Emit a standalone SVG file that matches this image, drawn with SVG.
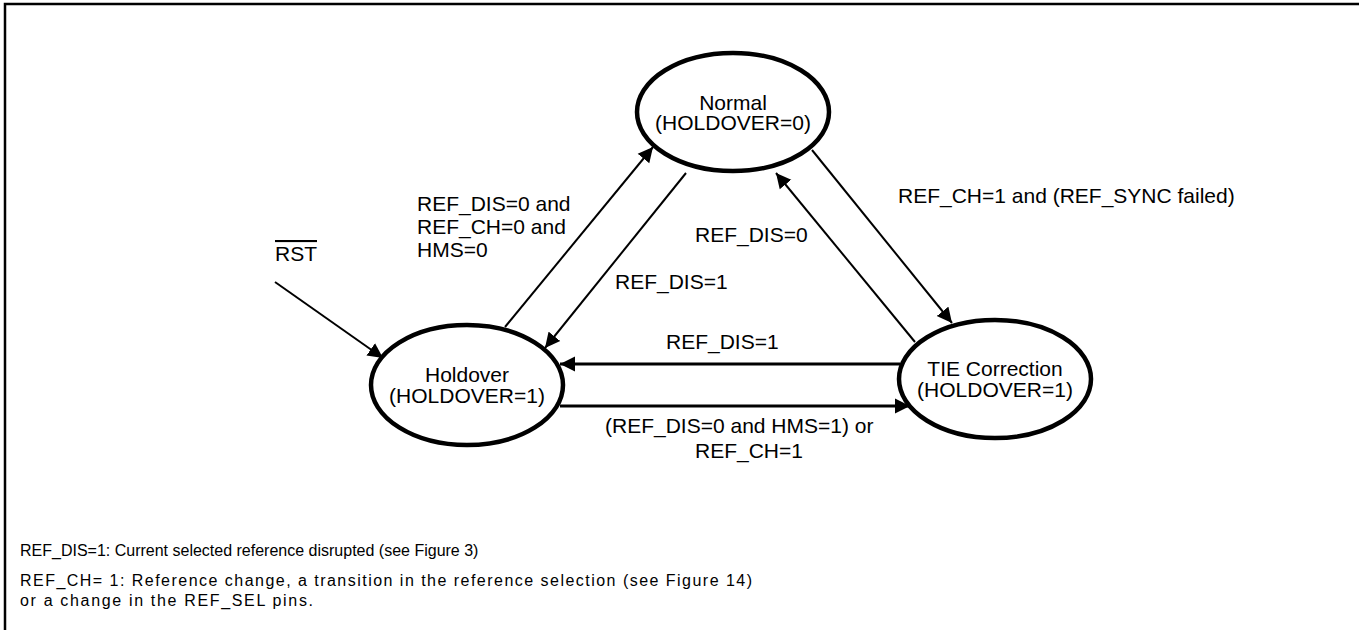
<svg xmlns="http://www.w3.org/2000/svg" width="1359" height="630" viewBox="0 0 1359 630">
  <style>
    text { font-family: "Liberation Sans", Arial, sans-serif; fill: #000; }
    .lbl { font-size: 21px; }
    .node-text { font-size: 21px; text-anchor: middle; }
    .note { font-size: 16px; }
    .state { fill: #fff; stroke: #000; stroke-width: 4.5; }
    .conn { fill: none; stroke: #000; stroke-width: 2; marker-end: url(#arrow); }
    .conn-h { fill: none; stroke: #000; stroke-width: 2.8; marker-end: url(#arrow); }
  </style>
  <defs>
    <marker id="arrow" markerUnits="userSpaceOnUse" markerWidth="16" markerHeight="16" refX="15" refY="8" orient="auto" viewBox="0 0 16 16">
      <path d="M0,0.5 L15,8 L0,15.5 z" fill="#000"/>
    </marker>
  </defs>
  <rect width="1359" height="630" fill="#fff"/>
  <path d="M5,630 V4 H1359" fill="none" stroke="#000" stroke-width="2.5"/>

  <g id="connectors">
    <line class="conn" x1="505" y1="327" x2="653" y2="147"/>
    <line class="conn" x1="686" y1="173" x2="545" y2="348"/>
    <line class="conn" x1="915" y1="342" x2="776" y2="173"/>
    <line class="conn" x1="812" y1="150" x2="952" y2="323"/>
    <line class="conn-h" x1="900" y1="364" x2="560" y2="364"/>
    <line class="conn-h" x1="560" y1="406" x2="910" y2="406"/>
    <line class="conn" x1="275" y1="282" x2="383" y2="358"/>
  </g>

  <g id="normal">
    <ellipse class="state" cx="733" cy="112" rx="96" ry="59"/>
    <text class="node-text" x="733" y="110">Normal</text>
    <text class="node-text" x="733" y="130">(HOLDOVER=0)</text>
  </g>
  <g id="holdover">
    <ellipse class="state" cx="467" cy="385" rx="96" ry="60"/>
    <text class="node-text" x="467" y="382">Holdover</text>
    <text class="node-text" x="467" y="403">(HOLDOVER=1)</text>
  </g>
  <g id="tie">
    <ellipse class="state" cx="995" cy="379" rx="96" ry="59"/>
    <text class="node-text" x="995" y="376">TIE Correction</text>
    <text class="node-text" x="995" y="397">(HOLDOVER=1)</text>
  </g>

  <g id="labels">
    <text class="lbl" x="417" y="211">REF_DIS=0 and</text>
    <text class="lbl" x="417" y="234">REF_CH=0 and</text>
    <text class="lbl" x="417" y="257">HMS=0</text>
    <text class="lbl" x="615" y="289">REF_DIS=1</text>
    <text class="lbl" x="695" y="242">REF_DIS=0</text>
    <text class="lbl" x="898" y="203">REF_CH=1 and (REF_SYNC failed)</text>
    <text class="lbl" x="666" y="349">REF_DIS=1</text>
    <text class="lbl" x="605" y="433">(REF_DIS=0 and HMS=1) or</text>
    <text class="lbl" x="695" y="458">REF_CH=1</text>
    <text class="lbl" x="275" y="261" text-decoration="overline">RST</text>
  </g>

  <g id="notes">
    <text class="note" x="20" y="556">REF_DIS=1: Current selected reference disrupted (see Figure 3)</text>
    <text class="note" x="20" y="586" textLength="732" lengthAdjust="spacing">REF_CH= 1: Reference change, a transition in the reference selection (see Figure 14)</text>
    <text class="note" x="20" y="606" textLength="293" lengthAdjust="spacing">or a change in the REF_SEL pins.</text>
  </g>
</svg>
